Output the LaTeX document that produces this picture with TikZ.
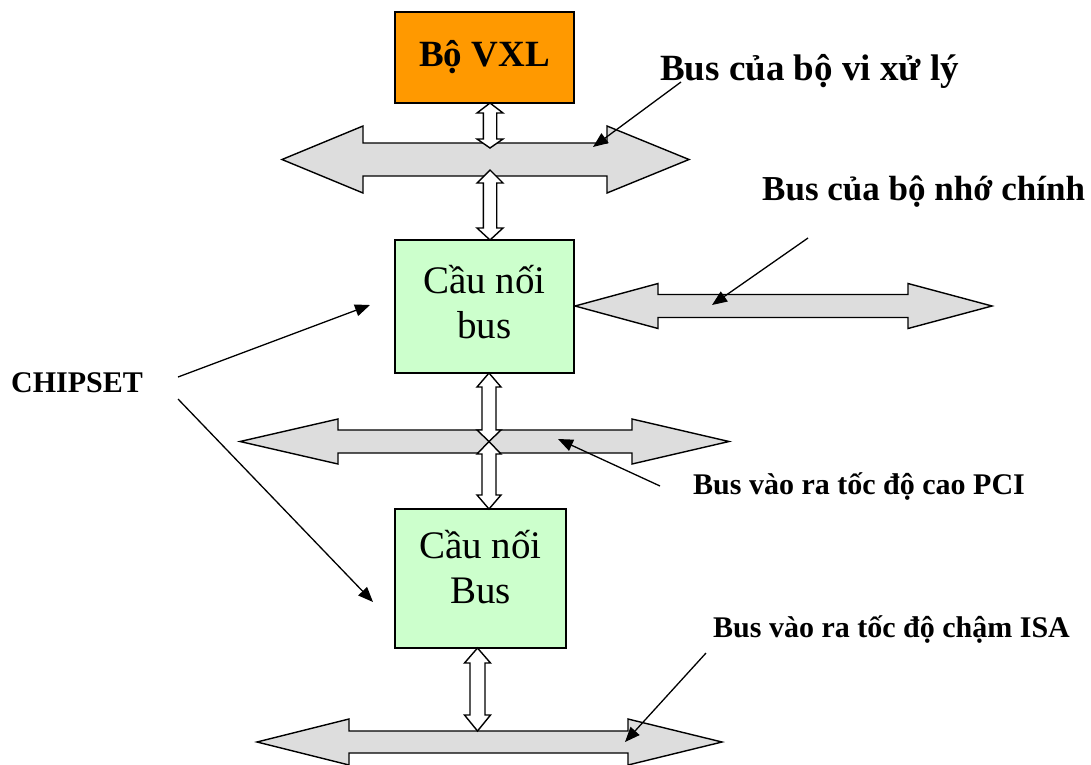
\documentclass[tikz,border=0pt]{standalone}
\usepackage{fontspec}
\setmainfont{Liberation Serif}
\usetikzlibrary{arrows.meta}
\definecolor{vxlorange}{HTML}{FF9900}
\definecolor{bridgegreen}{HTML}{CCFFCC}
\definecolor{busgray}{HTML}{DDDDDD}
\newcommand{\hbusarrow}[7]{% xl xr yc sh hh hl hr
  \draw[busshape] (#1,#3) -- ({#1+#6},{#3-#5}) -- ({#1+#6},{#3-#4}) -- ({#2-#7},{#3-#4}) -- ({#2-#7},{#3-#5}) -- (#2,#3)
    -- ({#2-#7},{#3+#5}) -- ({#2-#7},{#3+#4}) -- ({#1+#6},{#3+#4}) -- ({#1+#6},{#3+#5}) -- cycle;}
\newcommand{\vlinkarrow}[7]{% x yt yb sh hh hlt hlb
  \draw[linkshape] (#1,#2) -- ({#1+#5},{#2+#6}) -- ({#1+#4},{#2+#6}) -- ({#1+#4},{#3-#7}) -- ({#1+#5},{#3-#7}) -- (#1,#3)
    -- ({#1-#5},{#3-#7}) -- ({#1-#4},{#3-#7}) -- ({#1-#4},{#2+#6}) -- ({#1-#5},{#2+#6}) -- cycle;}
\newcommand{\twolines}[3]{\raisebox{#1}[\height][\depth]{\begin{tabular}{@{}c@{}}#2\\#3\end{tabular}}}
\tikzset{
  busshape/.style={draw=black, line width=1.4pt, fill=busgray, line join=miter},
  linkshape/.style={draw=black, line width=1.4pt, fill=white, line join=miter},
  blockbox/.style={draw=black, line width=1.4pt, inner sep=0pt, align=center},
  lbl/.style={inner sep=0pt, anchor=base west, font=\bfseries\fontsize{30}{34}\selectfont},
  biglbl/.style={inner sep=0pt, anchor=base west, font=\bfseries\fontsize{35}{40}\selectfont},
  callout/.style={draw=black, line width=1.3pt, -{Triangle[length=15pt,width=12pt]}}
}
\begin{document}
\begin{tikzpicture}[x=1pt,y=-1pt]
\useasboundingbox (0,0) rectangle (1091,764);
% buses
\hbusarrow{282}{689}{159.5}{16.5}{33.5}{81}{82}
\hbusarrow{575}{992}{306}{11.5}{22.5}{83}{84}
\hbusarrow{240}{729}{441.5}{11.5}{22.5}{98}{97}
\hbusarrow{257}{722}{742}{11}{23}{92}{94}
% blocks
\node[blockbox, fill=vxlorange, minimum width=179pt, minimum height=91pt,
      font=\bfseries\fontsize{37}{42}\selectfont] (vxl) at (484.5,57.5) {Bộ VXL};
\node[blockbox, fill=bridgegreen, minimum width=179pt, minimum height=133pt,
      font=\fontsize{39}{45}\selectfont] (br1) at (484.5,306.5) {\twolines{0pt}{Cầu nối}{bus}};
\node[blockbox, fill=bridgegreen, minimum width=171pt, minimum height=139pt,
      font=\fontsize{39}{45}\selectfont] (br2) at (480.5,578.5) {\twolines{7pt}{Cầu nối}{Bus}};
% vertical links
\vlinkarrow{490}{103}{148}{6.7}{13}{10}{9}
\vlinkarrow{490}{170}{240}{6.7}{13}{13}{12}
\vlinkarrow{489}{373}{441.5}{7}{12}{14}{11.5}
\vlinkarrow{489}{441.5}{509}{7}{12}{12.5}{14}
\vlinkarrow{477.5}{648}{731}{7.5}{13}{15}{16}
% labels
\node[biglbl, font=\bfseries\fontsize{37}{42}\selectfont] (lcpu) at (660,80) {Bus của bộ vi xử lý};
\node[biglbl] (lmem) at (762,200) {Bus của bộ nhớ chính};
\node[lbl] (lchip) at (11,392) {CHIPSET};
\node[lbl] (lpci) at (693,494) {Bus vào ra tốc độ cao PCI};
\node[lbl] (lisa) at (713,637) {Bus vào ra tốc độ chậm ISA};
% callout coordinates
\coordinate (s1) at (681,82);   \coordinate (e1) at (593,147);
\coordinate (s2) at (808,238);  \coordinate (e2) at (712,305);
\coordinate (s3) at (178,377);  \coordinate (e3) at (370,305);
\coordinate (s4) at (178,399);  \coordinate (e4) at (373,602);
\coordinate (s5) at (660,486);  \coordinate (e5) at (558,439);
\coordinate (s6) at (706,653);  \coordinate (e6) at (625,742);
\draw[callout] (s1) -- (e1);
\draw[callout] (s2) -- (e2);
\draw[callout] (s3) -- (e3);
\draw[callout] (s4) -- (e4);
\draw[callout] (s5) -- (e5);
\draw[callout] (s6) -- (e6);
\end{tikzpicture}
\end{document}
